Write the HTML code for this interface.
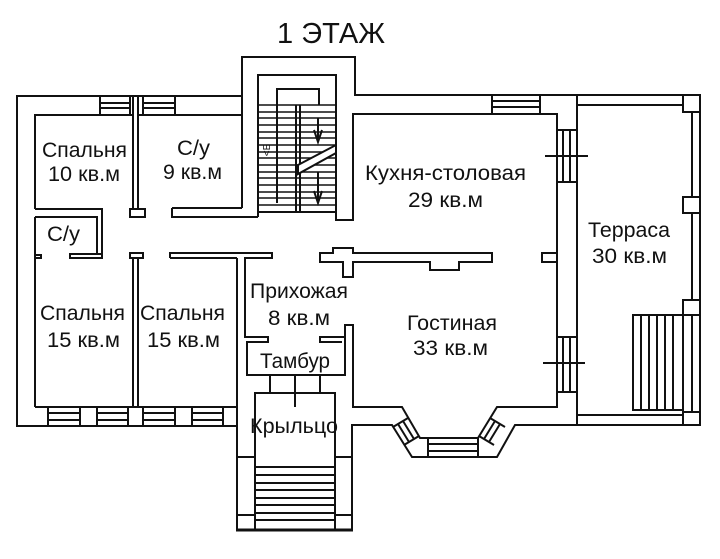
<!DOCTYPE html>
<html><head><meta charset="utf-8">
<style>
html,body{margin:0;padding:0;background:#fff;}
svg{display:block;}
text{font-family:"Liberation Sans","DejaVu Sans",sans-serif;fill:#111;}
</style></head><body>
<svg width="720" height="559" viewBox="0 0 720 559" xmlns="http://www.w3.org/2000/svg">
<rect x="0" y="0" width="720" height="559" fill="#fff"/>
<g fill="none" stroke="#111" stroke-width="2" stroke-linejoin="miter">
<!-- outer perimeter -->
<polyline points="242,208 242,57 355,57 355,95 700,95 700,425 515,425 497,457 412,457 392,425 352,425 352,530 237,530 237,426 17,426 17,96 242,96"/>
<!-- inner exterior lines -->
<polyline points="35,209 35,115 133,115"/>
<line x1="138" y1="115" x2="242" y2="115"/>
<line x1="35" y1="217" x2="35" y2="407"/>
<line x1="35" y1="407" x2="237" y2="407"/>
<!-- Спальня10 bottom / С/у small -->
<polyline points="35,209 102,209 102,258"/>
<polyline points="35,217 97,217 97,254"/>
<rect x="70" y="254" width="32" height="4"/>
<polyline points="35,255 41,255 41,258 35,258"/>
<!-- partition top -->
<line x1="133" y1="96" x2="133" y2="209"/>
<line x1="138" y1="96" x2="138" y2="209"/>
<rect x="130" y="209" width="15" height="8" fill="#fff"/>
<!-- С/у 9 bottom wall -->
<polyline points="172,208 242,208"/>
<polyline points="172,208 172,217 258,217"/>
<!-- stair tower inner -->
<polyline points="258,217 258,75 336,75 336,220 353,220 353,114 557,114 557,407 497,407 478,438 420,438 402,407 353,407 353,325 345,325 345,337"/>
<line x1="577" y1="95" x2="577" y2="425"/>
<!-- terrace -->
<line x1="577" y1="105" x2="683" y2="105"/>
<line x1="577" y1="415" x2="683" y2="415"/>
<line x1="692" y1="112" x2="692" y2="197"/>
<line x1="692" y1="213" x2="692" y2="300"/>
<rect x="683" y="95" width="17" height="17" fill="#fff"/>
<rect x="683" y="197" width="17" height="16" fill="#fff"/>
<rect x="683" y="300" width="17" height="15" fill="#fff"/>
<rect x="683" y="412" width="17" height="13" fill="#fff"/>
<rect x="633" y="315" width="50" height="95"/>
<line x1="641" y1="315" x2="641" y2="410"/>
<line x1="649" y1="315" x2="649" y2="410"/>
<line x1="657" y1="315" x2="657" y2="410"/>
<line x1="665" y1="315" x2="665" y2="410"/>
<line x1="673" y1="315" x2="673" y2="410"/>
<line x1="692" y1="315" x2="692" y2="412"/>
<!-- bedrooms partition -->
<line x1="133" y1="258" x2="133" y2="407"/>
<line x1="138" y1="258" x2="138" y2="407"/>
<rect x="130" y="253" width="13" height="5" fill="#fff"/>
<!-- corridor bar 1 -->
<polyline points="170,258 170,253 272,253 272,258 245,258 245,337 268,337 268,342 247,342 247,375 345,375 345,337 320,337 320,342 342,342"/>
<line x1="170" y1="258" x2="237" y2="258"/>
<line x1="237" y1="258" x2="237" y2="426"/>
<!-- corridor bar 2 -->
<polygon points="320,253 333,253 333,248 353,248 353,253 492,253 492,262 459,262 459,270 430,270 430,262 353,262 353,277 343,277 343,262 320,262"/>
<rect x="542" y="253" width="15" height="9"/>
<!-- tambur / porch -->
<line x1="270" y1="375" x2="270" y2="393"/>
<line x1="295" y1="375" x2="295" y2="407"/>
<line x1="320" y1="375" x2="320" y2="393"/>
<polyline points="255,530 255,393 335,393 335,530"/>
<line x1="237" y1="457" x2="255" y2="457"/>
<line x1="335" y1="457" x2="352" y2="457"/>
<rect x="237" y="515" width="18" height="15"/>
<rect x="335" y="515" width="17" height="15"/>
<line x1="255" y1="467" x2="335" y2="467"/>
<line x1="255" y1="475" x2="335" y2="475"/>
<line x1="255" y1="483" x2="335" y2="483"/>
<line x1="255" y1="490" x2="335" y2="490"/>
<line x1="255" y1="498" x2="335" y2="498"/>
<line x1="255" y1="505" x2="335" y2="505"/>
<line x1="255" y1="513" x2="335" y2="513"/>
<line x1="255" y1="520" x2="335" y2="520"/>
<line x1="236" y1="530" x2="353" y2="530" stroke-width="3"/>
<!-- windows top -->
<line x1="100" y1="96" x2="100" y2="115"/><line x1="130" y1="96" x2="130" y2="115"/>
<line x1="100" y1="103" x2="130" y2="103"/><line x1="100" y1="108" x2="130" y2="108"/>
<line x1="143" y1="96" x2="143" y2="115"/><line x1="175" y1="96" x2="175" y2="115"/>
<line x1="143" y1="103" x2="175" y2="103"/><line x1="143" y1="108" x2="175" y2="108"/>
<line x1="492" y1="95" x2="492" y2="114"/><line x1="540" y1="95" x2="540" y2="114"/>
<line x1="492" y1="101" x2="540" y2="101"/><line x1="492" y1="107" x2="540" y2="107"/>
<!-- windows bottom -->
<g>
<line x1="48" y1="407" x2="48" y2="426"/><line x1="80" y1="407" x2="80" y2="426"/>
<line x1="48" y1="413" x2="80" y2="413"/><line x1="48" y1="420" x2="80" y2="420"/>
<line x1="97" y1="407" x2="97" y2="426"/><line x1="128" y1="407" x2="128" y2="426"/>
<line x1="97" y1="413" x2="128" y2="413"/><line x1="97" y1="420" x2="128" y2="420"/>
<line x1="143" y1="407" x2="143" y2="426"/><line x1="175" y1="407" x2="175" y2="426"/>
<line x1="143" y1="413" x2="175" y2="413"/><line x1="143" y1="420" x2="175" y2="420"/>
<line x1="192" y1="407" x2="192" y2="426"/><line x1="223" y1="407" x2="223" y2="426"/>
<line x1="192" y1="413" x2="223" y2="413"/><line x1="192" y1="420" x2="223" y2="420"/>
</g>
<!-- windows on kitchen/terrace wall -->
<line x1="557" y1="130" x2="577" y2="130"/><line x1="557" y1="182" x2="577" y2="182"/>
<line x1="563" y1="130" x2="563" y2="182"/><line x1="570" y1="130" x2="570" y2="182"/>
<line x1="545" y1="156" x2="588" y2="156"/>
<line x1="557" y1="337" x2="577" y2="337"/><line x1="557" y1="392" x2="577" y2="392"/>
<line x1="563" y1="337" x2="563" y2="392"/><line x1="570" y1="337" x2="570" y2="392"/>
<line x1="543" y1="363" x2="585" y2="363"/>
<!-- bay windows -->
<line x1="428" y1="438" x2="428" y2="457"/><line x1="478" y1="438" x2="478" y2="457"/>
<line x1="428" y1="444" x2="478" y2="444"/><line x1="428" y1="451" x2="478" y2="451"/>
<!-- left diagonal window -->
<line x1="408" y1="418" x2="393" y2="427"/>
<line x1="419" y1="436" x2="404" y2="445"/>
<line x1="403" y1="421" x2="414" y2="439"/>
<line x1="398" y1="424" x2="409" y2="442"/>
<!-- right diagonal window -->
<line x1="479" y1="436" x2="494" y2="445"/>
<line x1="490" y1="418" x2="505" y2="427"/>
<line x1="484" y1="439" x2="495" y2="421"/>
<line x1="489" y1="442" x2="500" y2="424"/>
<!-- stair -->
<polyline points="277,203 277,89 319,89 319,105"/>
<g stroke-width="1.6">
<line x1="258" y1="105" x2="336" y2="105"/>
<line x1="258" y1="112" x2="336" y2="112"/>
<line x1="258" y1="118" x2="336" y2="118"/>
<line x1="258" y1="125" x2="336" y2="125"/>
<line x1="258" y1="132" x2="336" y2="132"/>
<line x1="258" y1="138" x2="336" y2="138"/>
<line x1="258" y1="145" x2="336" y2="145"/>
<line x1="258" y1="152" x2="336" y2="152"/>
<line x1="258" y1="158" x2="336" y2="158"/>
<line x1="258" y1="165" x2="336" y2="165"/>
<line x1="258" y1="172" x2="336" y2="172"/>
<line x1="258" y1="178" x2="336" y2="178"/>
<line x1="258" y1="185" x2="336" y2="185"/>
<line x1="258" y1="192" x2="336" y2="192"/>
<line x1="258" y1="198" x2="336" y2="198"/>
<line x1="258" y1="205" x2="336" y2="205"/>
</g>
<line x1="258" y1="212" x2="336" y2="212"/>
<line x1="296" y1="105" x2="296" y2="212"/>
<line x1="300" y1="105" x2="300" y2="212"/>
<polygon points="298,165 336,145 336,153 298,174" fill="#fff"/>
<line x1="318" y1="118" x2="318" y2="142"/>
<polyline points="314,130 318,142 322,130"/>
<line x1="318" y1="172" x2="318" y2="202"/>
<polyline points="314,191 318,203 322,191"/>
</g>
<text x="270" y="150" font-size="10" transform="rotate(-90 270 150)" text-anchor="middle">&lt;Б</text>
<!-- labels -->
<text x="277" y="43" font-size="29" textLength="108" lengthAdjust="spacingAndGlyphs">1 ЭТАЖ</text>
<g font-size="21">
<text x="42" y="157" textLength="85" lengthAdjust="spacingAndGlyphs">Спальня</text>
<text x="48" y="181" textLength="72" lengthAdjust="spacingAndGlyphs">10 кв.м</text>
<text x="177" y="155" textLength="33" lengthAdjust="spacingAndGlyphs">С/у</text>
<text x="163" y="179" textLength="59" lengthAdjust="spacingAndGlyphs">9 кв.м</text>
<text x="47" y="241" textLength="33" lengthAdjust="spacingAndGlyphs">С/у</text>
<text x="40" y="320" textLength="85" lengthAdjust="spacingAndGlyphs">Спальня</text>
<text x="47" y="347" textLength="73" lengthAdjust="spacingAndGlyphs">15 кв.м</text>
<text x="140" y="320" textLength="85" lengthAdjust="spacingAndGlyphs">Спальня</text>
<text x="147" y="347" textLength="73" lengthAdjust="spacingAndGlyphs">15 кв.м</text>
<text x="250" y="298" textLength="98" lengthAdjust="spacingAndGlyphs">Прихожая</text>
<text x="268" y="325" textLength="62" lengthAdjust="spacingAndGlyphs">8 кв.м</text>
<text x="260" y="368" textLength="70" lengthAdjust="spacingAndGlyphs">Тамбур</text>
<text x="250" y="433" textLength="88" lengthAdjust="spacingAndGlyphs">Крыльцо</text>
<text x="365" y="180" textLength="161" lengthAdjust="spacingAndGlyphs">Кухня-столовая</text>
<text x="408" y="207" textLength="75" lengthAdjust="spacingAndGlyphs">29 кв.м</text>
<text x="588" y="237" textLength="82" lengthAdjust="spacingAndGlyphs">Терраса</text>
<text x="592" y="263" textLength="75" lengthAdjust="spacingAndGlyphs">30 кв.м</text>
<text x="407" y="330" textLength="90" lengthAdjust="spacingAndGlyphs">Гостиная</text>
<text x="413" y="355" textLength="75" lengthAdjust="spacingAndGlyphs">33 кв.м</text>
</g>
</svg>
</body></html>
